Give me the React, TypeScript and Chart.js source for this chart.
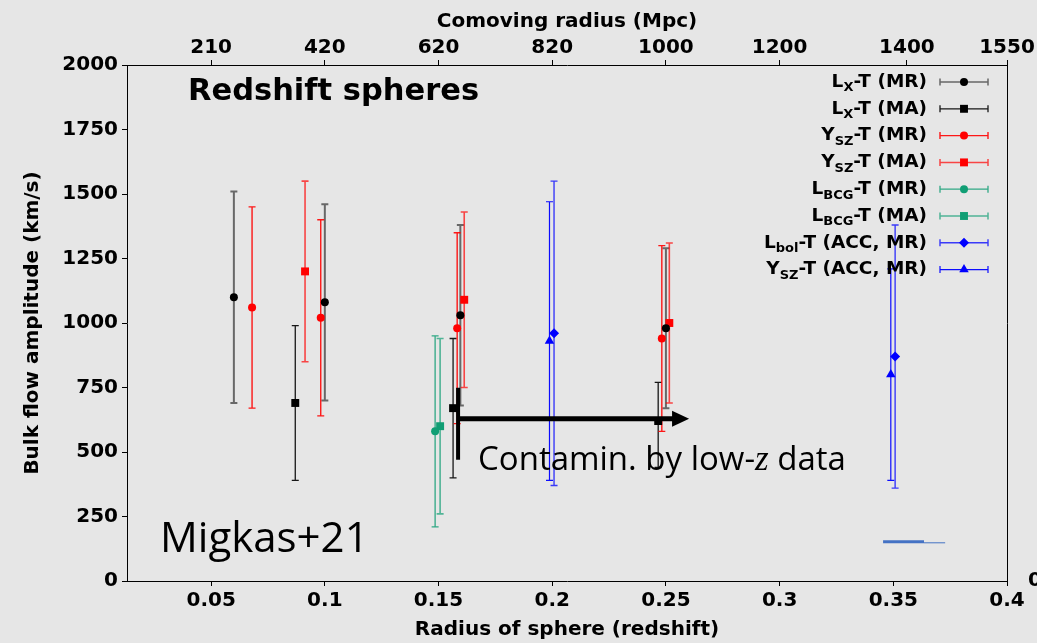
import { useEffect, useRef } from 'react';
import { Chart, registerables } from 'chart.js';

Chart.register(...registerables);

// ---- axis data ----
const xMin = 0.013;
const xMax = 0.4;
const xTickValues = [0.05, 0.1, 0.15, 0.2, 0.25, 0.3, 0.35, 0.4];
const xTickLabels = ['0.05', '0.1', '0.15', '0.2', '0.25', '0.3', '0.35', '0.4'];
const topTickValues = [0.05, 0.1, 0.15, 0.2, 0.25, 0.3, 0.356, 0.4];
const topTickLabels = ['210', '420', '620', '820', '1000', '1200', '1400', '1550'];
const yMin = 0;
const yMax = 2000;
const yStep = 250;

// ---- series data (redshift, amplitude, lower, upper) ----
const lxMrZ = [0.06, 0.1, 0.1596, 0.25];
const lxMrV = [1100, 1080, 1030, 980];
const lxMrLo = [690, 700, 680, 670];
const lxMrHi = [1510, 1460, 1380, 1290];

const lxMaZ = [0.087, 0.1564, 0.2466];
const lxMaV = [690, 670, 620];
const lxMaLo = [390, 400, 440];
const lxMaHi = [990, 940, 770];

const yszMrZ = [0.068, 0.0982, 0.1582, 0.2482];
const yszMrV = [1060, 1020, 980, 940];
const yszMrLo = [670, 640, 610, 580];
const yszMrHi = [1450, 1400, 1350, 1300];

const yszMaZ = [0.0913, 0.1613, 0.2515];
const yszMaV = [1200, 1090, 1000];
const yszMaLo = [850, 750, 690];
const yszMaHi = [1550, 1430, 1310];

const lbcgMrZ = [0.1485];
const lbcgMrV = [580];
const lbcgMrLo = [210];
const lbcgMrHi = [950];

const lbcgMaZ = [0.1507];
const lbcgMaV = [600];
const lbcgMaLo = [260];
const lbcgMaHi = [940];

const lbolAccZ = [0.2008, 0.3508];
const lbolAccV = [960, 870];
const lbolAccLo = [370, 360];
const lbolAccHi = [1550, 1380];

const yszAccZ = [0.1988, 0.3489];
const yszAccV = [930, 800];
const yszAccLo = [390, 390];
const yszAccHi = [1470, 1210];

// ---- legend text ----
const legendMain = ['L', 'L', 'Y', 'Y', 'L', 'L', 'L', 'Y'];
const legendSub = ['X', 'X', 'SZ', 'SZ', 'BCG', 'BCG', 'bol', 'SZ'];
const legendTail = ['-T (MR)', '-T (MA)', '-T (MR)', '-T (MA)', '-T (MR)', '-T (MA)', '-T (ACC, MR)', '-T (ACC, MR)'];

// ---- annotations (data units) ----
const arrowY = 629;
const arrowStartZ = 0.1586;
const arrowEndZ = 0.2527;
const arrowTipZ = 0.2602;
const barTopY = 749;
const barBottomY = 470;
const blueMarkY = 150;
const blueMarkZ = [0.3455, 0.3635, 0.3728];

const series = [
  { z: lxMrZ, v: lxMrV, lo: lxMrLo, hi: lxMrHi, color: '#000000', bar: 'rgba(0,0,0,0.55)', bw: 2, style: 'circle', r: 4 },
  { z: lxMaZ, v: lxMaV, lo: lxMaLo, hi: lxMaHi, color: '#000000', bar: 'rgba(0,0,0,0.9)', bw: 1.3, style: 'rect', r: 5.6 },
  { z: yszMrZ, v: yszMrV, lo: yszMrLo, hi: yszMrHi, color: '#ff0000', bar: 'rgba(255,0,0,0.9)', bw: 1.4, style: 'circle', r: 4 },
  { z: yszMaZ, v: yszMaV, lo: yszMaLo, hi: yszMaHi, color: '#ff0000', bar: 'rgba(255,0,0,0.7)', bw: 1.6, style: 'rect', r: 5.6 },
  { z: lbcgMrZ, v: lbcgMrV, lo: lbcgMrLo, hi: lbcgMrHi, color: '#109e74', bar: 'rgba(16,158,116,0.85)', bw: 1.3, style: 'circle', r: 4 },
  { z: lbcgMaZ, v: lbcgMaV, lo: lbcgMaLo, hi: lbcgMaHi, color: '#109e74', bar: 'rgba(16,158,116,0.7)', bw: 1.6, style: 'rect', r: 5.6 },
  { z: lbolAccZ, v: lbolAccV, lo: lbolAccLo, hi: lbolAccHi, color: '#0000ff', bar: 'rgba(0,0,255,0.75)', bw: 1.4, style: 'rectRot', r: 5 },
  { z: yszAccZ, v: yszAccV, lo: yszAccLo, hi: yszAccHi, color: '#0000ff', bar: 'rgba(0,0,255,0.95)', bw: 1.2, style: 'triangle', r: 5.5 },
];

const BOLD = "'DejaVu Sans', Verdana, sans-serif";

function drawMarker(ctx: CanvasRenderingContext2D, style: string, x: number, y: number, r: number, color: string) {
  ctx.save();
  ctx.fillStyle = color;
  ctx.beginPath();
  if (style === 'circle') {
    ctx.arc(x, y, r, 0, Math.PI * 2);
  } else if (style === 'rect') {
    const s = Math.SQRT1_2 * r;
    ctx.rect(x - s, y - s, 2 * s, 2 * s);
  } else if (style === 'rectRot') {
    ctx.moveTo(x, y - r);
    ctx.lineTo(x + r, y);
    ctx.lineTo(x, y + r);
    ctx.lineTo(x - r, y);
    ctx.closePath();
  } else {
    ctx.moveTo(x, y - r);
    ctx.lineTo(x + r * Math.cos(Math.PI / 6), y + r / 2);
    ctx.lineTo(x - r * Math.cos(Math.PI / 6), y + r / 2);
    ctx.closePath();
  }
  ctx.fill();
  ctx.restore();
}

const errorBarPlugin = {
  id: 'errorBars',
  beforeDatasetsDraw(chart: any) {
    const ctx = chart.ctx;
    const xs = chart.scales.x;
    const ys = chart.scales.y;
    series.forEach((s) => {
      ctx.save();
      ctx.strokeStyle = s.bar;
      ctx.lineWidth = s.bw;
      s.z.forEach((z, i) => {
        const x = xs.getPixelForValue(z);
        const y1 = ys.getPixelForValue(s.lo[i]);
        const y2 = ys.getPixelForValue(s.hi[i]);
        ctx.beginPath();
        ctx.moveTo(x, y1);
        ctx.lineTo(x, y2);
        ctx.moveTo(x - 3.5, y1);
        ctx.lineTo(x + 3.5, y1);
        ctx.moveTo(x - 3.5, y2);
        ctx.lineTo(x + 3.5, y2);
        ctx.stroke();
      });
      ctx.restore();
    });
  },
};

const annotationPlugin = {
  id: 'annotations',
  afterDatasetsDraw(chart: any) {
    const ctx = chart.ctx;
    const xs = chart.scales.x;
    const ys = chart.scales.y;
    const area = chart.chartArea;
    ctx.save();
    // arrow
    const ay = ys.getPixelForValue(arrowY);
    const ax0 = xs.getPixelForValue(arrowStartZ);
    const ax1 = xs.getPixelForValue(arrowEndZ);
    const ax2 = xs.getPixelForValue(arrowTipZ);
    ctx.strokeStyle = '#000';
    ctx.lineWidth = 5;
    ctx.beginPath();
    ctx.moveTo(ax0, ay);
    ctx.lineTo(ax1 + 1, ay);
    ctx.stroke();
    ctx.fillStyle = '#000';
    ctx.beginPath();
    ctx.moveTo(ax1, ay - 8);
    ctx.lineTo(ax2, ay);
    ctx.lineTo(ax1, ay + 8);
    ctx.closePath();
    ctx.fill();
    // vertical bar
    ctx.lineWidth = 4;
    ctx.beginPath();
    ctx.moveTo(ax0, ys.getPixelForValue(barTopY));
    ctx.lineTo(ax0, ys.getPixelForValue(barBottomY));
    ctx.stroke();
    // blue mark
    const by = ys.getPixelForValue(blueMarkY);
    ctx.strokeStyle = '#4472c4';
    ctx.lineWidth = 3;
    ctx.beginPath();
    ctx.moveTo(xs.getPixelForValue(blueMarkZ[0]), by - 0.5);
    ctx.lineTo(xs.getPixelForValue(blueMarkZ[1]), by - 0.5);
    ctx.stroke();
    ctx.lineWidth = 1;
    ctx.beginPath();
    ctx.moveTo(xs.getPixelForValue(blueMarkZ[1]), by + 0.5);
    ctx.lineTo(xs.getPixelForValue(blueMarkZ[2]), by + 0.5);
    ctx.stroke();

    // texts
    ctx.fillStyle = '#000';
    ctx.textBaseline = 'middle';
    ctx.textAlign = 'left';
    ctx.font = `bold 30.5px ${BOLD}`;
    ctx.fillText('Redshift spheres', area.left + 61, area.top + 27);
    ctx.font = `42px 'Open Sans', sans-serif`;
    ctx.fillText('Migkas+21', area.left + 33, area.top + 475);
    const tx = area.left + 351;
    const ty = area.top + 396;
    ctx.font = `33px 'Open Sans', sans-serif`;
    const p1 = 'Contamin. by low-';
    ctx.fillText(p1, tx, ty);
    let w = ctx.measureText(p1).width;
    ctx.font = `italic 35px 'Liberation Serif', serif`;
    ctx.fillText('z', tx + w, ty);
    w += ctx.measureText('z').width;
    ctx.font = `33px 'Open Sans', sans-serif`;
    ctx.fillText(' data', tx + w, ty);
    ctx.restore();

    // legend
    ctx.save();
    const right = area.right - 80;
    const lx0 = area.right - 67;
    const lx1 = area.right - 19;
    series.forEach((s, k) => {
      const y = area.top + 17 + k * 26.8;
      const mainFont = `bold 18.5px ${BOLD}`;
      const subFont = `bold 13px ${BOLD}`;
      ctx.font = mainFont;
      const w1 = ctx.measureText(legendMain[k]).width;
      const w3 = ctx.measureText(legendTail[k]).width;
      ctx.font = subFont;
      const w2 = ctx.measureText(legendSub[k]).width;
      let x = right - (w1 + w2 + w3);
      ctx.fillStyle = '#000';
      ctx.textBaseline = 'middle';
      ctx.textAlign = 'left';
      ctx.font = mainFont;
      ctx.fillText(legendMain[k], x, y);
      x += w1;
      ctx.font = subFont;
      ctx.fillText(legendSub[k], x, y + 6);
      x += w2;
      ctx.font = mainFont;
      ctx.fillText(legendTail[k], x, y);
      // sample
      ctx.strokeStyle = s.bar;
      ctx.lineWidth = Math.min(s.bw, 1.5);
      ctx.beginPath();
      ctx.moveTo(lx0, y);
      ctx.lineTo(lx1, y);
      ctx.moveTo(lx0, y - 3.5);
      ctx.lineTo(lx0, y + 3.5);
      ctx.moveTo(lx1, y - 3.5);
      ctx.lineTo(lx1, y + 3.5);
      ctx.stroke();
      drawMarker(ctx, s.style, (lx0 + lx1) / 2, y, s.r, s.color);
    });
    ctx.restore();
  },
};

export default function App() {
  const ref = useRef<HTMLCanvasElement | null>(null);
  useEffect(() => {
    if (!ref.current) return;
    const tickFont = { family: BOLD, size: 20, weight: 'bold' as const };
    const titleFont = { family: BOLD, size: 20, weight: 'bold' as const };
    const grid = { drawOnChartArea: false, drawTicks: true, tickLength: 5, color: '#000' };
    const border = { display: true, color: '#000', width: 1 };
    const chart = new Chart(ref.current, {
      type: 'scatter',
      data: {
        datasets: series.map((s) => ({
          data: s.z.map((z, i) => ({ x: z, y: s.v[i] })),
          pointStyle: s.style as any,
          pointRadius: s.r,
          pointHoverRadius: s.r,
          backgroundColor: s.color,
          borderColor: s.color,
          borderWidth: 0,
          showLine: false,
        })),
      },
      options: {
        animation: false,
        responsive: true,
        maintainAspectRatio: false,
        layout: { padding: 0 },
        plugins: { legend: { display: false }, tooltip: { enabled: false } },
        scales: {
          x: {
            type: 'linear',
            position: 'bottom',
            min: xMin,
            max: xMax,
            afterBuildTicks: (s: any) => {
              s.ticks = xTickValues.map((v) => ({ value: v }));
            },
            afterFit: (s: any) => {
              s.height = 62;
            },
            ticks: {
              callback: (_v: any, i: number) => xTickLabels[i],
              font: tickFont,
              color: '#000',
              padding: 3,
              maxRotation: 0,
              autoSkip: false,
            },
            grid,
            border,
            title: {
              display: true,
              text: 'Radius of sphere (redshift)',
              font: titleFont,
              color: '#000',
              padding: { top: 0, bottom: 1 },
            },
          },
          xTop: {
            type: 'linear',
            position: 'top',
            min: xMin,
            max: xMax,
            afterBuildTicks: (s: any) => {
              s.ticks = topTickValues.map((v) => ({ value: v }));
            },
            afterFit: (s: any) => {
              s.height = 65;
            },
            ticks: {
              callback: (_v: any, i: number) => topTickLabels[i],
              font: tickFont,
              color: '#000',
              padding: 0,
              maxRotation: 0,
              autoSkip: false,
            },
            grid,
            border,
            title: {
              display: true,
              text: 'Comoving radius (Mpc)',
              font: titleFont,
              color: '#000',
              padding: { top: 10, bottom: 0 },
            },
          },
          y: {
            type: 'linear',
            position: 'left',
            min: yMin,
            max: yMax,
            afterFit: (s: any) => {
              s.width = 127;
            },
            ticks: {
              stepSize: yStep,
              font: tickFont,
              color: '#000',
              padding: 4,
              callback: (v: any) => String(v),
            },
            grid,
            border,
            title: {
              display: true,
              text: 'Bulk flow amplitude (km/s)',
              font: titleFont,
              color: '#000',
              padding: { top: 21, bottom: 0 },
            },
          },
          yRight: {
            type: 'linear',
            position: 'right',
            min: yMin,
            max: yMax,
            afterFit: (s: any) => {
              s.width = 30;
            },
            ticks: {
              stepSize: yStep,
              font: tickFont,
              color: '#000',
              padding: 21,
              callback: (v: any) => (v === 0 ? '0' : ''),
            },
            grid: { drawOnChartArea: false, drawTicks: false, color: '#000' },
            border,
          },
        },
      },
      plugins: [errorBarPlugin, annotationPlugin],
    });
    return () => chart.destroy();
  }, []);
  return (
    <div style={{ position: 'fixed', left: 0, top: 0, width: 1037, height: 643, background: '#e6e6e6' }}>
      <canvas ref={ref} />
    </div>
  );
}
